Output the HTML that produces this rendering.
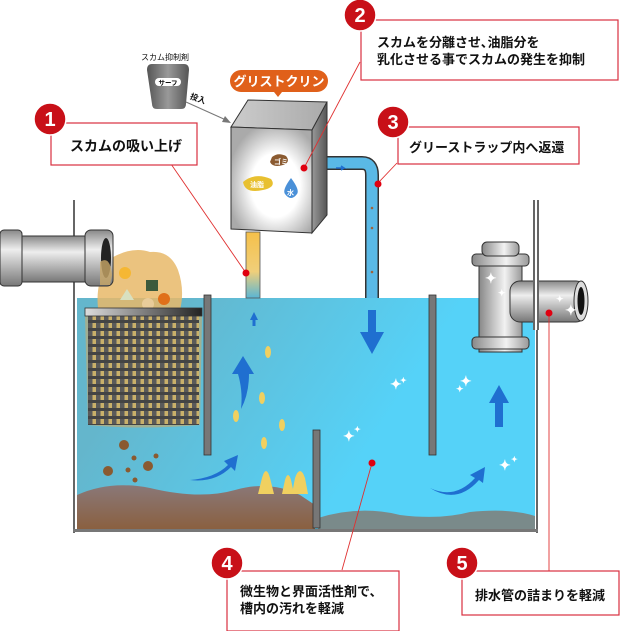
<!DOCTYPE html>
<html><head><meta charset="utf-8"><style>
html,body{margin:0;padding:0;background:#fff;}
svg{display:block;}
text{font-family:"Liberation Sans","Noto Sans CJK JP",sans-serif;font-weight:bold;}
</style></head><body>
<svg width="620" height="631" viewBox="0 0 620 631" xmlns="http://www.w3.org/2000/svg">
<defs>
<linearGradient id="wl" gradientUnits="userSpaceOnUse" x1="180" y1="300" x2="380" y2="430"><stop offset="0" stop-color="#64b6cc"/><stop offset="1" stop-color="#55d2f8"/></linearGradient>
<linearGradient id="mud" x1="0" y1="0" x2="0" y2="1"><stop offset="0" stop-color="#8a7878"/><stop offset="1" stop-color="#8a6040"/></linearGradient>
<linearGradient id="pipeV" x1="0" y1="0" x2="0" y2="1"><stop offset="0" stop-color="#888"/><stop offset="0.35" stop-color="#eee"/><stop offset="1" stop-color="#777"/></linearGradient>
<linearGradient id="pipeH" x1="0" y1="0" x2="1" y2="0"><stop offset="0" stop-color="#888"/><stop offset="0.6" stop-color="#f2f2f2"/><stop offset="1" stop-color="#999"/></linearGradient>
<radialGradient id="boxf" cx="0.55" cy="0.55" r="0.6"><stop offset="0.5" stop-color="#fff"/><stop offset="1" stop-color="#aaa"/></radialGradient>
<linearGradient id="boxr" x1="0" y1="0" x2="1" y2="0"><stop offset="0" stop-color="#999"/><stop offset="1" stop-color="#555"/></linearGradient>
<linearGradient id="boxt" x1="0" y1="0" x2="1" y2="0"><stop offset="0" stop-color="#ccc"/><stop offset="1" stop-color="#aaa"/></linearGradient>
<linearGradient id="upp" x1="0" y1="0" x2="0" y2="1"><stop offset="0" stop-color="#f5c04a"/><stop offset="0.6" stop-color="#f0cf7a"/><stop offset="1" stop-color="#5ab6d4"/></linearGradient>
<linearGradient id="cup" x1="0" y1="0" x2="1" y2="0"><stop offset="0" stop-color="#555"/><stop offset="0.5" stop-color="#999"/><stop offset="1" stop-color="#555"/></linearGradient>
<linearGradient id="bar" x1="0" y1="0" x2="1" y2="0"><stop offset="0" stop-color="#ddd"/><stop offset="1" stop-color="#222"/></linearGradient>
<pattern id="grid" x="88" y="315" width="8" height="8" patternUnits="userSpaceOnUse"><rect width="8" height="8" fill="#c9b06a"/><rect x="0" y="0" width="4.5" height="8" fill="#5a5a5a"/><rect x="0" y="5" width="8" height="3" fill="#444"/></pattern>
</defs>

<!-- tank walls -->
<rect x="73" y="200" width="2" height="333" fill="#666"/>
<rect x="536" y="200" width="2" height="333" fill="#666"/>
<rect x="73" y="529" width="465" height="3" fill="#777"/>
<!-- water -->
<rect x="77" y="298" width="458" height="231" fill="url(#wl)"/>
<!-- mud -->
<path d="M77 495 Q110 480 150 488 Q200 500 235 490 Q270 480 300 495 L315 505 L315 529 L77 529Z" fill="url(#mud)"/>
<path d="M318 518 Q360 505 400 515 Q440 520 470 512 Q510 508 535 516 L535 529 L318 529Z" fill="#7a8a8a"/>
<!-- yellow bubbles -->
<g fill="#f0d060">
<path d="M262 478 q4 -14 8 0 l4 16 h-16z"/><path d="M285 480 q3 -10 6 0 l3 14 h-12z"/><path d="M295 478 q5 -14 10 0 l3 16 h-16z"/>
<ellipse cx="268" cy="352" rx="3" ry="6"/><ellipse cx="262" cy="398" rx="3" ry="6"/><ellipse cx="236" cy="416" rx="3" ry="6"/><ellipse cx="282" cy="425" rx="3" ry="6"/><ellipse cx="264" cy="443" rx="3" ry="6"/>
</g>
<!-- grease cloud -->
<path d="M105 262 Q130 245 150 252 Q170 250 178 270 Q185 290 180 310 L190 318 Q180 330 170 318 L100 318 Q95 300 100 280Z" fill="#e8b868" opacity="0.85"/>
<circle cx="125" cy="273" r="6" fill="#f5b733"/><rect x="146" y="280" width="12" height="11" fill="#3c5a3c"/><circle cx="164" cy="299" r="6" fill="#e0701a"/><path d="M120 300 l7 -11 l7 11z" fill="#d8e0c0"/><circle cx="148" cy="304" r="6" fill="#e8cc9a"/>
<!-- basket -->
<path d="M85 316 L202 316 L200 425 Q140 430 88 425Z" fill="#c9a868" opacity="0.6"/>
<rect x="88" y="316" width="111" height="109" fill="url(#grid)"/>
<rect x="85" y="308" width="117" height="8" fill="url(#bar)" stroke="#333" stroke-width="0.8"/>
<!-- mud blobs -->
<g fill="#8a5a30"><circle cx="124" cy="445" r="5"/><circle cx="134" cy="458" r="2.5"/><circle cx="148" cy="466" r="5"/><circle cx="156" cy="456" r="2.5"/><circle cx="128" cy="470" r="2.5"/><circle cx="108" cy="471" r="5"/><circle cx="135" cy="480" r="2.5"/></g>
<!-- baffles -->
<rect x="204" y="295" width="7" height="160" fill="#777" stroke="#333" stroke-width="0.8"/>
<rect x="313" y="430" width="7" height="98" fill="#777" stroke="#333" stroke-width="0.8"/>
<rect x="429" y="295" width="7" height="160" fill="#777" stroke="#333" stroke-width="0.8"/>
<!-- inlet pipe -->
<rect x="0" y="236" width="100" height="46" fill="url(#pipeV)" stroke="#333"/>
<rect x="0" y="230" width="22" height="56" rx="4" fill="url(#pipeV)" stroke="#333"/>
<rect x="85" y="230" width="28" height="56" rx="6" fill="url(#pipeV)" stroke="#333"/>
<ellipse cx="106" cy="258" rx="5" ry="20" fill="#222"/>
<path d="M100 262 Q110 255 112 275 L110 285 L100 285Z" fill="#c9a868" opacity="0.8"/>
<!-- outlet tee -->
<rect x="479" y="262" width="43" height="90" fill="url(#pipeH)" stroke="#333"/>
<rect x="472" y="337" width="57" height="12" rx="4" fill="url(#pipeH)" stroke="#333"/>
<rect x="472" y="254" width="57" height="12" rx="4" fill="url(#pipeH)" stroke="#333"/>
<rect x="482" y="242" width="37" height="14" rx="5" fill="url(#pipeH)" stroke="#333"/>
<rect x="510" y="281" width="76" height="41" rx="10" fill="url(#pipeV)" stroke="#333"/>
<ellipse cx="581" cy="301" rx="7" ry="20" fill="#ddd" stroke="#333"/><ellipse cx="581" cy="301" rx="3.5" ry="14" fill="#111"/>
<!-- right wall over pipe -->
<rect x="533" y="200" width="2" height="130" fill="#666"/><rect x="537" y="200" width="2" height="130" fill="#666"/><rect x="535" y="200" width="2" height="130" fill="#fff"/>
<!-- sparkles -->
<g fill="#fff" font-size="14">
<text x="485" y="283">✦</text><text x="498" y="296" font-size="9">✦</text><text x="565" y="315">✦</text><text x="556" y="302" font-size="9">✦</text>
<text x="390" y="389">✦</text><text x="400" y="383" font-size="8">✦</text><text x="343" y="441">✦</text><text x="354" y="432" font-size="8">✦</text>
<text x="460" y="386">✦</text><text x="456" y="392" font-size="9">✦</text><text x="499" y="470">✦</text><text x="511" y="462" font-size="8">✦</text>
</g>
<!-- blue arrows -->
<g fill="#1f6fd0">
<path d="M250 320 l4 -8 l4 8 h-2.5 v6 h-3 v-6z"/>
<path d="M368 310 h8 v22 h8 l-12 22 l-12 -22 h8z"/>
<path d="M489 403 l10 -18 l10 18 h-6 v24 h-8 v-24z"/>
<path d="M243 356 l11 18 h-5 q0 20 -8 35 q2 -18 -3 -35 h-6z"/>
<path d="M190 480 q25 -2 38 -15 l-4 -4 l14 -6 l-3 16 l-4 -4 q-16 16 -41 13z"/>
<path d="M430 488 q25 12 45 -10 l-5 -3 l15 -8 l-2 16 l-4 -3 q-22 25 -49 8z"/>
</g>
<!-- up pipe -->
<rect x="246" y="232" width="14" height="66" fill="url(#upp)" stroke="#555" stroke-width="0.8"/>
<!-- return pipe -->
<path d="M310 163 H362 Q372 163 372 175 V298" fill="none" stroke="#333" stroke-width="14"/>
<path d="M310 163 H362 Q372 163 372 175 V298" fill="none" stroke="#5ab9e6" stroke-width="11"/>
<path d="M336 168 h8 l-3 -2 m3 2 l-3 2" stroke="#1f6fd0" stroke-width="1.5" fill="none"/>
<g fill="#a0623a"><circle cx="372" cy="208" r="1.3"/><circle cx="372" cy="228" r="1.3"/><circle cx="372" cy="272" r="1.3"/></g>
<!-- box -->
<path d="M231 127 L248 100 L327 102 L312 130Z" fill="url(#boxt)" stroke="#333"/>
<path d="M312 130 L327 102 L327 215 L312 233Z" fill="url(#boxr)" stroke="#333"/>
<path d="M231 127 L312 130 L312 233 L231 229Z" fill="url(#boxf)" stroke="#333"/>
<path d="M272 157 q6 -5 14 -1 q5 6 -3 9 q-10 3 -13 -3z" fill="#8a5a30"/><text x="274" y="164" font-size="7" fill="#fff">ゴミ</text>
<path d="M243 182 q12 -10 28 -3 q6 8 -8 11 q-18 4 -20 -8z" fill="#e8c030"/><text x="250" y="187" font-size="7" fill="#fff">油脂</text>
<path d="M291 178 q-9 12 -6 16 q6 8 12 0 q3 -4 -6 -16z" fill="#4a90d8"/><text x="287" y="195" font-size="7" fill="#fff">水</text>
<!-- label grist -->
<rect x="230" y="70" width="98" height="22" rx="11" fill="#e0601a"/>
<path d="M274 92 l4 5 l4 -5z" fill="#e0601a"/>
<text x="279" y="86" font-size="13" fill="#fff" text-anchor="middle">グリストクリン</text>
<!-- cup -->
<text x="165" y="60" font-size="8" fill="#111" text-anchor="middle" style="font-weight:normal">スカム抑制剤</text>
<path d="M152 64 h32 q5 0 5 6 l-3 34 q0 5 -5 5 h-24 q-5 0 -5 -5 l-5 -34 q0 -6 5 -6z" fill="url(#cup)"/>
<rect x="155" y="78" width="26" height="8" rx="4" fill="#fff"/><text x="168" y="85" font-size="6.5" fill="#111" text-anchor="middle">サーフ</text>
<text x="190" y="100" font-size="8" fill="#111" transform="rotate(20 194 98)">投入</text>
<line x1="186" y1="102" x2="226" y2="120" stroke="#777" stroke-width="1"/><path d="M231 123 l-9 -1 l3 -6z" fill="#777"/>
<!-- leader lines -->
<g stroke="#e03030" stroke-width="0.9" fill="none">
<line x1="171" y1="164" x2="246" y2="273"/>
<line x1="360" y1="62" x2="304" y2="168"/>
<line x1="397" y1="163" x2="378" y2="183"/>
<line x1="342" y1="570" x2="372" y2="463"/>
<line x1="549" y1="313" x2="549" y2="571"/>
</g>
<g fill="#e00010"><circle cx="246" cy="273" r="3.5"/><circle cx="304" cy="168" r="3.5"/><circle cx="378" cy="184" r="3.5"/><circle cx="372" cy="463" r="3.5"/><circle cx="549" cy="313" r="3.5"/></g>
<!-- callout boxes -->
<g fill="#fff" stroke="#d83040" stroke-width="1.2">
<rect x="51" y="123" width="146" height="42"/>
<rect x="361" y="20" width="257" height="60"/>
<rect x="398" y="127" width="181" height="37"/>
<rect x="227" y="571" width="172" height="60"/>
<rect x="462" y="571" width="157" height="44"/>
</g>
<g fill="#111" font-size="14">
<text x="70" y="151">スカムの吸い上げ</text>
<text x="377" y="47" font-size="13">スカムを分離させ､油脂分を</text>
<text x="377" y="64" font-size="13">乳化させる事でスカムの発生を抑制</text>
<text x="409" y="152" font-size="13">グリーストラップ内へ返還</text>
<text x="240" y="596" font-size="13">微生物と界面活性剤で、</text>
<text x="240" y="613" font-size="13">槽内の汚れを軽減</text>
<text x="475" y="600" font-size="13">排水管の詰まりを軽減</text>
</g>
<!-- number badges -->
<g fill="#c81018" stroke="#fff" stroke-width="1.5">
<circle cx="50" cy="119" r="16"/><circle cx="360" cy="15" r="16"/><circle cx="393" cy="122" r="16"/><circle cx="227" cy="563" r="16"/><circle cx="462" cy="563" r="16"/>
</g>
<g fill="#fff" font-size="20" text-anchor="middle">
<text x="50" y="126">1</text><text x="360" y="22">2</text><text x="393" y="129">3</text><text x="227" y="570">4</text><text x="462" y="570">5</text>
</g>
</svg>
</body></html>
